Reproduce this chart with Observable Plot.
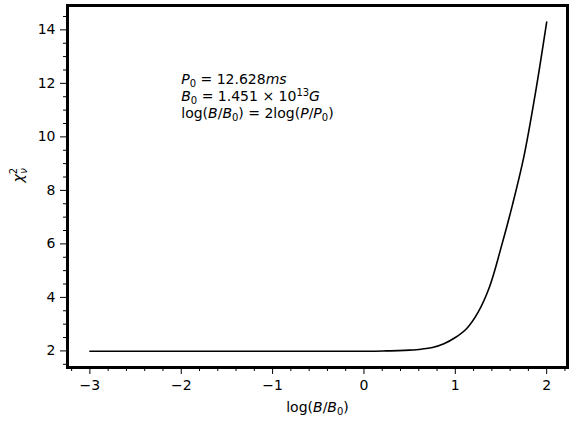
<!DOCTYPE html>
<html>
<head>
<meta charset="utf-8">
<script src="https://cdn.jsdelivr.net/npm/d3@7"></script>
<script src="https://cdn.jsdelivr.net/npm/@observablehq/plot@0.6"></script>
<style>
  html, body { margin: 0; padding: 0; background: #fff; }
  svg { display: block; }
</style>
</head>
<body>
<div id="chart"></div>
<script>
// log(B/B0) grid
const logB = [-3, -2.875, -2.75, -2.625, -2.5, -2.375, -2.25, -2.125, -2, -1.875, -1.75, -1.625, -1.5,
  -1.375, -1.25, -1.125, -1, -0.875, -0.75, -0.625, -0.5, -0.375, -0.25, -0.125, 0,
  0.125, 0.25, 0.375, 0.5, 0.625, 0.75, 0.875, 1, 1.125, 1.25, 1.375, 1.5, 1.625, 1.75, 1.875, 2];
// reduced chi-square
const chi2 = [1.99, 1.99, 1.99, 1.99, 1.99, 1.99, 1.99, 1.99, 1.99, 1.99, 1.99, 1.99, 1.99,
  1.99, 1.99, 1.99, 1.99, 1.99, 1.99, 1.99, 1.99, 1.99, 1.99, 1.99, 1.99,
  1.99, 2.00, 2.01, 2.03, 2.065, 2.13, 2.27, 2.50, 2.84, 3.45, 4.40, 5.85, 7.45, 9.25, 11.60, 14.29];

const xMajor = [-3, -2, -1, 0, 1, 2];
const xMinor = [-3.2, -2.8, -2.6, -2.4, -2.2, -1.8, -1.6, -1.4, -1.2, -0.8, -0.6, -0.4, -0.2,
  0.2, 0.4, 0.6, 0.8, 1.2, 1.4, 1.6, 1.8, 2.2];
const yMajor = [2, 4, 6, 8, 10, 12, 14];
const yMinor = [1.5, 2.5, 3, 3.5, 4.5, 5, 5.5, 6.5, 7, 7.5, 8.5, 9, 9.5, 10.5, 11, 11.5, 12.5, 13, 13.5, 14.5];

const annLines = ["P0 = 12.628ms", "B0 = 1.451 × 10^13G", "log(B/B0) = 2log(P/P0)"];
const annY = [11.99, 11.35, 10.72];
const annX = -2.0;
const xLabel = "log(B/B0)";
const yLabel = "χ2ν";

const data = logB.map((x, i) => ({x, y: chi2[i]}));
const ann = annLines.map((t, i) => ({x: annX, y: annY[i], t}));
const fmt = d => d < 0 ? "\u2212" + (-d) : String(d);
const FONT = "DejaVu Sans, sans-serif";

const plot = Plot.plot({
  width: 569,
  height: 421,
  marginLeft: 67,
  marginRight: 2,
  marginTop: 5,
  marginBottom: 54,
  style: {fontFamily: FONT, color: "black", background: "white", overflow: "visible"},
  x: {domain: [-3.245, 2.228], label: null},
  y: {domain: [1.38, 14.91], label: null},
  marks: [
    Plot.axisX(xMinor, {tickSize: 4, tickFormat: () => "", label: null, strokeWidth: 1}),
    Plot.axisX(xMajor, {tickSize: 7, tickPadding: 6, tickFormat: fmt, fontSize: 14, label: null, strokeWidth: 1}),
    Plot.axisY(yMinor, {tickSize: 4, tickFormat: () => "", label: null, strokeWidth: 1}),
    Plot.axisY(yMajor, {tickSize: 7, tickPadding: 5, tickFormat: fmt, fontSize: 14, label: null, strokeWidth: 1}),
    Plot.line(data, {x: "x", y: "y", stroke: "black", strokeWidth: 1.6, curve: "catmull-rom"}),
    Plot.text(ann, {x: "x", y: "y", text: "t", textAnchor: "start", lineAnchor: "bottom", fontSize: 14, fill: "black"}),
    Plot.text([xLabel], {frameAnchor: "bottom", dy: 44, text: d => d, fontSize: 14, fill: "black"}),
    Plot.text([yLabel], {frameAnchor: "left", dx: -49, dy: -4, rotate: -90, text: d => d, fontSize: 14, fill: "black"}),
    Plot.frame({stroke: "black", strokeWidth: 3})
  ]
});

document.getElementById("chart").appendChild(plot);

// rich text helpers
function rich(el, parts) {
  const t = d3.select(el);
  t.text("");
  parts.forEach(p => {
    const s = t.append("tspan").text(p.t);
    if (p.i) s.attr("font-style", "italic");
    if (p.fs) s.attr("font-size", p.fs);
    if (p.dy) s.attr("dy", p.dy);
    if (p.dx) s.attr("dx", p.dx);
  });
}
const richMap = new Map([
  [annLines[0], [{t: "P", i: true}, {t: "0", fs: 10, dy: 3}, {t: " = 12.628", dy: -3}, {t: "ms", i: true}]],
  [annLines[1], [{t: "B", i: true}, {t: "0", fs: 10, dy: 3}, {t: " = 1.451 × 10", dy: -3}, {t: "13", fs: 10, dy: -5}, {t: "G", i: true, dy: 5}]],
  [annLines[2], [{t: "log("}, {t: "B", i: true}, {t: "/"}, {t: "B", i: true}, {t: "0", fs: 10, dy: 3},
    {t: ") = 2log(", dy: -3}, {t: "P", i: true}, {t: "/"}, {t: "P", i: true}, {t: "0", fs: 10, dy: 3}, {t: ")", dy: -3}]],
  [xLabel, [{t: "log("}, {t: "B", i: true}, {t: "/"}, {t: "B", i: true}, {t: "0", fs: 10, dy: 3}, {t: ")", dy: -3}]],
  [yLabel, [{t: "χ", i: true}, {t: "2", fs: 10, dy: -6}, {t: "ν", i: true, fs: 10, dy: 10, dx: -6}]]
]);
d3.select(plot).selectAll("text").each(function() {
  const parts = richMap.get(this.textContent);
  if (parts) rich(this, parts);
});
</script>
</body>
</html>
